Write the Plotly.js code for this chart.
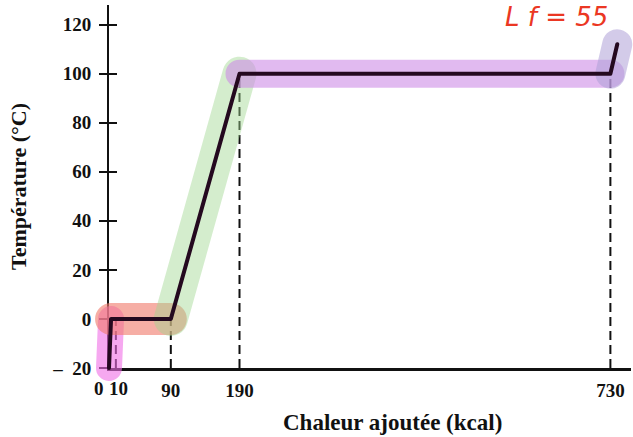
<!DOCTYPE html>
<html>
<head>
<meta charset="utf-8">
<script src="https://cdn.plot.ly/plotly-3.0.1.min.js"></script>
<style>html,body{margin:0;padding:0;background:#fff;}#chart{width:633px;height:437px;}</style>
</head>
<body>
<div id="chart"></div>
<script>
// Data
var heat = [0, 3, 90, 190, 730, 740];          // kcal
var temp = [-20, 0, 0, 100, 100, 112];         // °C
var dashX = [10, 90, 190, 730];                // dashed guide positions
var dashTop = [0, 0, 100, 100];                // guide top values
var xTickVals = [90, 190, 730];
var xTickText = ['90', '190', '730'];
var xCloseVals = [0, 10];                      // crowded labels, drawn apart
var xCloseText = ['0', '10'];
var yTickVals = [-20, 0, 20, 40, 60, 80, 100, 120];
var yTickText = ['\u2013\u00a0\u00a020', '0', '20', '40', '60', '80', '100', '120'];

// Highlighter strokes over each phase (indices into heat/temp)
var phases = [
  {a: 0, b: 1, color: 'rgba(240,110,230,0.6)', w: 26},
  {a: 1, b: 2, color: 'rgba(240,125,110,0.62)', w: 32},
  {a: 2, b: 3, color: 'rgba(160,215,145,0.45)', w: 34},
  {a: 3, b: 4, color: 'rgba(205,140,230,0.6)', w: 28},
  {a: 4, b: 5, color: 'rgba(175,160,215,0.55)', w: 30}
];

// ---- layout geometry (pixels) ----
var W = 633, H = 437;
var plotL = 109, plotR = 631, plotTop = 5, plotBot = 368;
var xRange = [0, 760], yRange = [-20, 128];
var sx = (plotR - plotL) / (xRange[1] - xRange[0]);
var sy = (plotBot - plotTop) / (yRange[1] - yRange[0]);
// overlay subplot, wider so the highlighter strokes are not clipped at the axes
var oL = 75, oR = 633, oTop = 0, oBot = 400;
var x2Range = [xRange[0] + (oL - plotL) / sx, xRange[0] + (oR - plotL) / sx];
var y3Range = [yRange[0] - (oBot - plotBot) / sy, yRange[0] + (plotBot - oTop) / sy];

var traces = [];

// dashed guides
var gx = [], gy = [];
dashX.forEach(function (v, i) { gx.push(v, v, null); gy.push(-20, dashTop[i], null); });
traces.push({
  x: gx, y: gy, mode: 'lines',
  line: {color: '#111', width: 2, dash: '9px,5px'},
  hoverinfo: 'skip', showlegend: false
});

// dummy trace for the mirrored tick axis
traces.push({x: [0], y: [0], yaxis: 'y2', mode: 'markers', marker: {opacity: 0}, hoverinfo: 'skip', showlegend: false});

// highlighter strokes
phases.forEach(function (p) {
  traces.push({
    x: heat.slice(p.a, p.b + 1), y: temp.slice(p.a, p.b + 1),
    xaxis: 'x2', yaxis: 'y3',
    mode: 'lines', line: {color: p.color, width: p.w},
    hoverinfo: 'skip', showlegend: false
  });
});

// main curve (same scale, drawn over the strokes)
traces.push({
  x: heat, y: temp, xaxis: 'x2', yaxis: 'y3', mode: 'lines',
  line: {color: '#24091f', width: 4},
  showlegend: false
});

var tickFont = {family: 'Liberation Serif', size: 19, color: '#111', weight: 'bold'};
var annotations = [
  {
    text: 'Chaleur ajoutée (kcal)', xref: 'paper', yref: 'paper', x: 392 / W, y: (H - 422) / H,
    xanchor: 'center', yanchor: 'middle', showarrow: false,
    font: {family: 'Liberation Serif', size: 23, color: '#111', weight: 'bold'}
  },
  {
    text: 'L f = 55', xref: 'paper', yref: 'paper', x: 503 / W, y: 1,
    xanchor: 'left', yanchor: 'top', showarrow: false,
    font: {family: 'DejaVu Sans', size: 26, color: 'rgb(235,55,35)', style: 'italic'}
  }
];
var closeShift = [-10, 3];
xCloseVals.forEach(function (v, i) {
  annotations.push({
    text: xCloseText[i], xref: 'x', yref: 'paper', x: v, y: (H - 388) / H,
    xanchor: 'center', yanchor: 'middle', xshift: closeShift[i], showarrow: false,
    font: tickFont
  });
});

var layout = {
  width: W, height: H,
  margin: {l: 0, r: 0, t: 0, b: 0},
  paper_bgcolor: '#fff', plot_bgcolor: 'rgba(0,0,0,0)',
  xaxis: {
    domain: [plotL / W, plotR / W], anchor: 'y',
    range: xRange, showgrid: false, zeroline: false,
    showline: true, linecolor: '#111', linewidth: 2.5,
    tickvals: xTickVals, ticktext: xTickText, ticks: '', tickangle: 0,
    ticklabeloverflow: 'allow',
    tickfont: tickFont, ticklabelstandoff: 4,
    automargin: false
  },
  yaxis: {
    domain: [(H - plotBot) / H, (H - plotTop) / H], anchor: 'x',
    range: yRange, showgrid: false, zeroline: false,
    showline: true, linecolor: '#111', linewidth: 2,
    tickvals: yTickVals, ticktext: yTickText,
    ticks: 'outside', ticklen: 8, tickwidth: 2, tickcolor: '#111',
    tickfont: tickFont, ticklabelstandoff: 4,
    title: {text: '<b>Température (°C)</b>', font: {family: 'Liberation Serif', size: 22, color: '#111'}, standoff: 20},
    automargin: false
  },
  yaxis2: {
    range: yRange, overlaying: 'y', side: 'left', anchor: 'x',
    showgrid: false, zeroline: false, showline: false,
    tickvals: yTickVals.slice(1), ticks: 'inside', ticklen: 8, tickwidth: 2, tickcolor: '#111',
    showticklabels: false
  },
  xaxis2: {
    domain: [oL / W, oR / W], anchor: 'y3', range: x2Range, visible: false, fixedrange: true
  },
  yaxis3: {
    domain: [(H - oBot) / H, (H - oTop) / H], anchor: 'x2', range: y3Range, visible: false, fixedrange: true
  },
  annotations: annotations
};

Plotly.newPlot('chart', traces, layout, {displayModeBar: false, staticPlot: true}).then(function (gd) {
  // marker-pen look: rounded stroke ends and joins
  gd.querySelectorAll('.js-line').forEach(function (p) {
    p.style.strokeLinecap = 'round';
    p.style.strokeLinejoin = 'round';
  });
  gd.querySelectorAll('.subplot.xy .js-line').forEach(function (p) {
    p.style.strokeLinecap = 'butt';
  });
});
</script>
</body>
</html>
